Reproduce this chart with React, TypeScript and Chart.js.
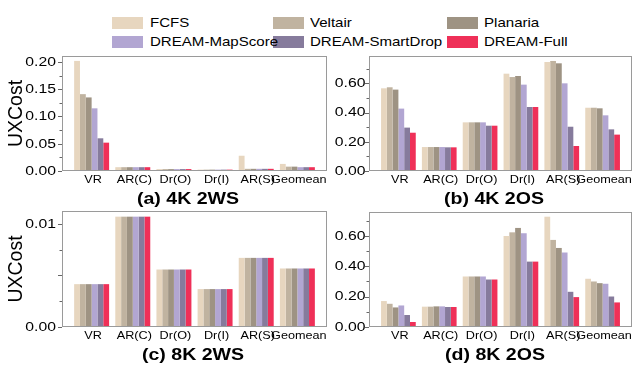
import React, { useEffect, useRef } from "react";
import { Chart, registerables } from "chart.js";

Chart.register(...registerables);

const categories = ["VR", "AR(C)", "Dr(O)", "Dr(I)", "AR(S)", "Geomean"];
const seriesNames = ["FCFS", "Veltair", "Planaria", "DREAM-MapScore", "DREAM-SmartDrop", "DREAM-Full"];
const seriesColors = ["#e7d6bf", "#c0b3a0", "#9e9383", "#b2a6d2", "#867b9c", "#ef3058"];

// (a) 4K 2WS
const valuesA: number[][] = [
  [0.202, 0.007, 0.0035, 0.0025, 0.028, 0.013],
  [0.141, 0.007, 0.0035, 0.0025, 0.004, 0.008],
  [0.135, 0.007, 0.0035, 0.0025, 0.004, 0.008],
  [0.115, 0.007, 0.0035, 0.0025, 0.004, 0.007],
  [0.060, 0.007, 0.0035, 0.0025, 0.004, 0.007],
  [0.052, 0.007, 0.0035, 0.0025, 0.004, 0.007],
];
// (b) 4K 2OS
const valuesB: number[][] = [
  [0.566, 0.164, 0.333, 0.666, 0.746, 0.433],
  [0.573, 0.164, 0.333, 0.643, 0.753, 0.433],
  [0.557, 0.164, 0.333, 0.650, 0.737, 0.429],
  [0.427, 0.164, 0.333, 0.591, 0.600, 0.381],
  [0.297, 0.162, 0.310, 0.438, 0.303, 0.285],
  [0.262, 0.162, 0.310, 0.438, 0.171, 0.249],
];
// (c) 8K 2WS
const valuesC: number[][] = [
  [0.00416, 0.01071, 0.00558, 0.00368, 0.00671, 0.00568],
  [0.00416, 0.01071, 0.00558, 0.00368, 0.00671, 0.00568],
  [0.00416, 0.01071, 0.00558, 0.00368, 0.00671, 0.00568],
  [0.00416, 0.01071, 0.00558, 0.00368, 0.00671, 0.00568],
  [0.00416, 0.01071, 0.00558, 0.00368, 0.00671, 0.00568],
  [0.00416, 0.01071, 0.00558, 0.00368, 0.00671, 0.00568],
];
// (d) 8K 2OS
const valuesD: number[][] = [
  [0.171, 0.134, 0.333, 0.600, 0.727, 0.318],
  [0.153, 0.134, 0.333, 0.624, 0.574, 0.300],
  [0.129, 0.136, 0.333, 0.653, 0.521, 0.289],
  [0.142, 0.136, 0.333, 0.618, 0.491, 0.285],
  [0.079, 0.132, 0.313, 0.431, 0.232, 0.201],
  [0.033, 0.132, 0.313, 0.431, 0.197, 0.162],
];

const ticksA = [0, 0.05, 0.1, 0.15, 0.2];
const ticksB = [0, 0.2, 0.4, 0.6];
const ticksC = [0, 0.01];
const ticksD = [0, 0.2, 0.4, 0.6];

const FONT = "'Liberation Sans', Arial, Helvetica, sans-serif";
const STRETCH = 1.15;

const framePlugin = {
  id: "frame",
  afterDraw(chart: any, _args: any, opts: any) {
    const { ctx, chartArea } = chart;
    const { left, right, top, bottom } = chartArea;
    const y = chart.scales.y;
    const x = chart.scales.x;
    ctx.save();
    ctx.strokeStyle = "#9a9a9a";
    ctx.lineWidth = 1;
    ctx.strokeRect(Math.round(left) + 0.5, Math.round(top) + 0.5, Math.round(right - left) - 1, Math.round(bottom - top) - 1);
    ctx.strokeStyle = "#666";
    const minor: number = opts.minor;
    const maxV: number = y.max;
    for (let k = 0; k * minor <= maxV + 1e-12; k++) {
      const v = k * minor;
      const py = Math.round(y.getPixelForValue(v)) + 0.5;
      const isMajor = k % 2 === 0;
      const len = isMajor ? 4 : 2.5;
      ctx.beginPath();
      ctx.moveTo(left, py);
      ctx.lineTo(left - len, py);
      ctx.stroke();
    }
    // y tick labels
    ctx.fillStyle = "#000";
    ctx.font = `13.7px ${FONT}`;
    ctx.textAlign = "right";
    ctx.textBaseline = "middle";
    for (const v of opts.major as number[]) {
      const py = y.getPixelForValue(v);
      ctx.save();
      ctx.translate(left - opts.labelGap, py);
      ctx.scale(STRETCH, 1);
      ctx.fillText(v.toFixed(2), 0, 0);
      ctx.restore();
    }
    // x tick labels
    ctx.font = `11px ${FONT}`;
    ctx.textAlign = "center";
    categories.forEach((c, i) => {
      const px = x.getPixelForValue(i) + 1.5;
      ctx.save();
      ctx.translate(px, bottom + 9);
      ctx.scale(STRETCH, 1);
      ctx.fillText(c, 0, 0);
      ctx.restore();
    });
    ctx.restore();
  },
};

type PanelProps = {
  values: number[][];
  yMax: number;
  majorTicks: number[];
  minorStep: number;
  left: number;
  top: number;
  width: number;
  height: number;
  yWidth: number;
  xHeight: number;
  padTop: number;
  labelGap: number;
  showYTitle: boolean;
};

function Panel(p: PanelProps) {
  const ref = useRef<HTMLCanvasElement | null>(null);
  useEffect(() => {
    if (!ref.current) return;
    const chart = new Chart(ref.current, {
      type: "bar",
      data: {
        datasets: p.values.map((vals, si) => ({
          label: seriesNames[si],
          data: vals.map((v, i) => ({ x: i, y: v })),
          backgroundColor: seriesColors[si],
          borderWidth: 0,
          categoryPercentage: 0.85,
          barPercentage: 1.0,
        })),
      },
      options: {
        animation: false,
        responsive: false,
        maintainAspectRatio: false,
        layout: { padding: { top: p.padTop, right: 3, left: 0, bottom: 0 } },
        plugins: {
          legend: { display: false },
          tooltip: { enabled: false },
          frame: { minor: p.minorStep, major: p.majorTicks, labelGap: p.labelGap },
        } as any,
        scales: {
          x: {
            type: "linear",
            min: -0.72,
            max: 5.72,
            offset: false,
            grid: { display: false, drawTicks: false, offset: false },
            border: { display: false },
            afterBuildTicks: (scale: any) => {
              scale.ticks = categories.map((_, i) => ({ value: i }));
            },
            afterFit: (scale: any) => {
              scale.height = p.xHeight;
            },
            ticks: { display: false },
          } as any,
          y: {
            type: "linear",
            min: 0,
            max: p.yMax,
            grid: { display: false, drawTicks: false },
            border: { display: false },
            afterBuildTicks: (scale: any) => {
              scale.ticks = p.majorTicks.map((v) => ({ value: v }));
            },
            afterFit: (scale: any) => {
              scale.width = p.yWidth;
            },
            ticks: { display: false },
            title: {
              display: p.showYTitle,
              text: "UXCost",
              color: "#000",
              font: { family: FONT, size: 19.5, lineHeight: 1 },
              padding: { top: 7, bottom: 0 },
            },
          } as any,
        },
      },
      plugins: [framePlugin as any],
    });
    return () => chart.destroy();
  }, []);
  return (
    <canvas
      ref={ref}
      width={p.width}
      height={p.height}
      style={{ position: "absolute", left: p.left, top: p.top, width: p.width, height: p.height }}
    />
  );
}

const legendCols = [
  { box: 112, text: 150 },
  { box: 273, text: 310 },
  { box: 447, text: 484 },
];
const legendRows = [23, 42];

const panelTitles = [
  { text: "(a) 4K 2WS", cx: 188, cy: 199 },
  { text: "(b) 4K 2OS", cx: 494, cy: 199 },
  { text: "(c) 8K 2WS", cx: 193, cy: 355 },
  { text: "(d) 8K 2OS", cx: 495, cy: 355 },
];

export default function App() {
  return (
    <div style={{ position: "absolute", left: 0, top: 0, width: 635, height: 369, background: "#fff", overflow: "hidden" }}>
      {seriesNames.map((name, k) => {
        const col = legendCols[k % 3];
        const row = legendRows[Math.floor(k / 3)];
        return (
          <div
            key={"b" + name}
            style={{ position: "absolute", left: col.box, top: row - 6, width: 31, height: 12, background: seriesColors[k] }}
          />
        );
      })}
      {seriesNames.map((name, k) => {
        const col = legendCols[k % 3];
        const row = legendRows[Math.floor(k / 3)];
        return (
          <div
            key={"t" + name}
            style={{
              position: "absolute",
              left: col.text,
              top: row - 9,
              height: 18,
              lineHeight: "18px",
              fontFamily: FONT,
              fontSize: 13.1,
              color: "#000",
              whiteSpace: "nowrap",
              transform: `scaleX(${STRETCH})`,
              transformOrigin: "left center",
            }}
          >
            {name}
          </div>
        );
      })}
      <Panel values={valuesA} yMax={0.211} majorTicks={ticksA} minorStep={0.025}
        left={0} top={48} width={330} height={160} yWidth={62} xHeight={37} padTop={8} labelGap={6} showYTitle={true} />
      <Panel values={valuesB} yMax={0.787} majorTicks={ticksB} minorStep={0.1}
        left={330} top={48} width={305} height={160} yWidth={39} xHeight={37} padTop={8} labelGap={3.5} showYTitle={false} />
      <Panel values={valuesC} yMax={0.01126} majorTicks={ticksC} minorStep={0.0025}
        left={0} top={208} width={330} height={161} yWidth={62} xHeight={42} padTop={3} labelGap={6} showYTitle={true} />
      <Panel values={valuesD} yMax={0.758} majorTicks={ticksD} minorStep={0.1}
        left={330} top={208} width={305} height={161} yWidth={39} xHeight={42} padTop={4} labelGap={3.5} showYTitle={false} />
      {panelTitles.map((t) => (
        <div
          key={t.text}
          style={{
            position: "absolute",
            left: t.cx - 100,
            top: t.cy - 10,
            width: 200,
            height: 20,
            lineHeight: "20px",
            textAlign: "center",
            fontFamily: FONT,
            fontWeight: "bold",
            fontSize: 17,
            color: "#000",
            whiteSpace: "nowrap",
            transform: `scaleX(${STRETCH})`,
            transformOrigin: "center center",
          }}
        >
          {t.text}
        </div>
      ))}
    </div>
  );
}
